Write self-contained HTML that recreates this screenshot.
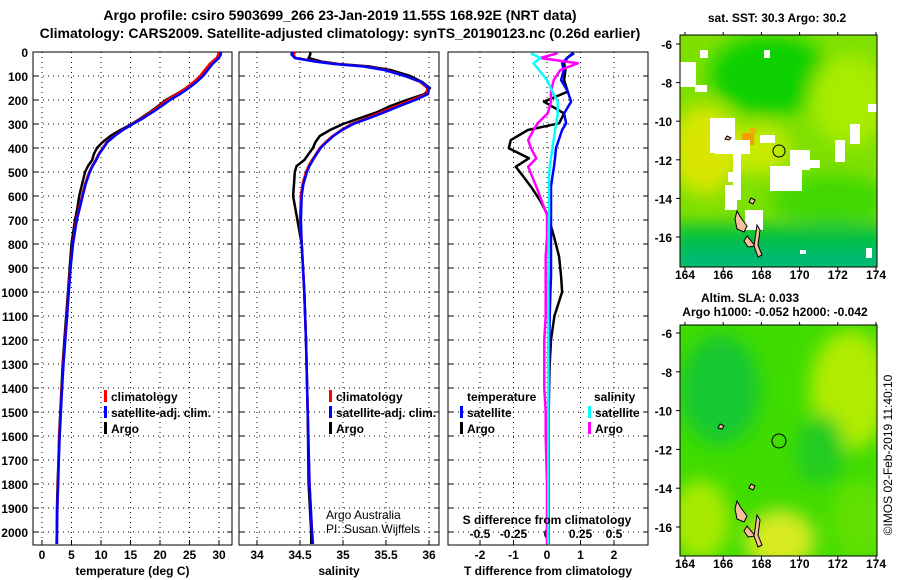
<!DOCTYPE html>
<html><head><meta charset="utf-8"><style>
html,body{margin:0;padding:0;background:#fff;width:900px;height:580px;overflow:hidden}
svg{display:block}
text{font-family:"Liberation Sans",sans-serif;font-weight:bold;fill:#000}
.t{font-size:14px}.k{font-size:12px}.l{font-size:12px}
</style></head><body>
<svg id="c" width="900" height="580" xmlns="http://www.w3.org/2000/svg">
<defs>
<filter id="bl" x="-50%" y="-50%" width="200%" height="200%"><feGaussianBlur stdDeviation="9"/></filter>
<filter id="bl2" x="-50%" y="-50%" width="200%" height="200%"><feGaussianBlur stdDeviation="4"/></filter>
<clipPath id="m1c"><rect x="680" y="35" width="197" height="232"/></clipPath>
<clipPath id="m2c"><rect x="680" y="325" width="197" height="231"/></clipPath>
</defs>
<text class="t" x="340" y="20" text-anchor="middle">Argo profile: csiro 5903699_266 23-Jan-2019 11.55S 168.92E (NRT data)</text>
<text class="t" x="340" y="38" text-anchor="middle">Climatology: CARS2009. Satellite-adjusted climatology: synTS_20190123.nc (0.26d earlier)</text>
<g id="axes"></g>
<g id="maps">
 <g clip-path="url(#m1c)">
  <rect x="680" y="35" width="197" height="232" fill="#7ee000"/>
  <g filter="url(#bl)">
   <ellipse cx="770" cy="75" rx="60" ry="40" fill="#10d000"/>
   <ellipse cx="850" cy="100" rx="40" ry="45" fill="#a8ec00"/>
   <ellipse cx="705" cy="150" rx="35" ry="45" fill="#d8e600"/>
   <ellipse cx="760" cy="150" rx="30" ry="25" fill="#c8ea00"/>
   <ellipse cx="830" cy="200" rx="60" ry="25" fill="#40d800"/>
   <rect x="670" y="225" width="220" height="50" fill="#00c040"/>
   <rect x="670" y="250" width="220" height="30" fill="#00b878"/>
  </g>
  <rect x="742" y="133" width="12" height="12" fill="#f4a000"/>
  <rect x="750" y="128" width="6" height="6" fill="#f0b000"/>
  <g fill="#fff">
   <rect x="680" y="62" width="16" height="25"/><rect x="695" y="85" width="12" height="7"/>
   <rect x="710" y="118" width="25" height="35"/><rect x="715" y="140" width="35" height="14"/>
   <rect x="733" y="150" width="8" height="50"/><rect x="725" y="185" width="12" height="25"/>
   <rect x="745" y="210" width="18" height="20"/>
   <rect x="770" y="166" width="32" height="25"/><rect x="790" y="150" width="20" height="20"/>
   <rect x="760" y="135" width="15" height="8"/><rect x="805" y="160" width="15" height="8"/>
   <rect x="835" y="140" width="10" height="22"/><rect x="850" y="124" width="10" height="20"/>
   <rect x="868" y="104" width="9" height="8"/><rect x="800" y="250" width="6" height="4"/>
   <rect x="700" y="50" width="8" height="8"/><rect x="728" y="172" width="10" height="10"/>
   <rect x="764" y="50" width="6" height="8"/><rect x="866" y="248" width="6" height="10"/>
  </g>
 </g>
 <g clip-path="url(#m2c)">
  <rect x="680" y="325" width="197" height="231" fill="#40dc00"/>
  <g filter="url(#bl)">
   <ellipse cx="720" cy="390" rx="40" ry="55" fill="#18c830"/>
   <ellipse cx="850" cy="390" rx="40" ry="60" fill="#b0ec00"/>
   <ellipse cx="700" cy="520" rx="30" ry="40" fill="#a8ea00"/>
   <ellipse cx="780" cy="540" rx="35" ry="30" fill="#d8ea20"/>
   <ellipse cx="860" cy="520" rx="30" ry="40" fill="#60e000"/>
   <ellipse cx="820" cy="450" rx="25" ry="35" fill="#20cc20"/>
  </g>
 </g>
 <g fill="#f8c09a" stroke="#000" stroke-width="1">
  <polygon points="737,211 741,218 747,226 744,232 737,229 735,219"/>
  <polygon points="747,236 752,242 755,246 748,247 744,241"/>
  <polygon points="757,225 760,230 758,245 762,255 758,257 754,246 756,232"/>
  <polygon points="727,136 731,138 729,140 725,139"/>
  <polygon points="751,198 755,200 753,204 749,202"/>
  <polygon points="737,501 741,508 747,516 744,522 737,519 735,509"/>
  <polygon points="747,526 752,532 755,536 748,537 744,531"/>
  <polygon points="757,515 760,520 758,535 762,545 758,547 754,536 756,522"/>
  <polygon points="720,424 724,426 722,429 718,428"/>
  <polygon points="751,484 755,486 753,490 749,488"/>
 </g>
 <circle cx="779" cy="151" r="6" fill="none" stroke="#000"/>
 <circle cx="779" cy="441" r="7" fill="none" stroke="#000"/>
 <rect x="680" y="35" width="197" height="232" fill="none" stroke="#000"/>
 <rect x="680" y="325" width="197" height="231" fill="none" stroke="#000"/>
 <text class="k" x="777" y="22" text-anchor="middle">sat. SST: 30.3 Argo: 30.2</text>
 <text class="k" x="750" y="302" text-anchor="middle">Altim. SLA: 0.033</text>
 <text class="k" x="775" y="316" text-anchor="middle">Argo h1000: -0.052 h2000: -0.042</text>
 <text x="892" y="455" font-size="12" style="font-weight:normal" text-anchor="middle" transform="rotate(-90 892 455)">©IMOS 02-Feb-2019 11:40:10</text>
</g>
<g id="lines"></g>
<g id="legends">
 <rect x="104" y="390" width="3" height="12" fill="#f00"/><text class="l" x="111" y="401">climatology</text>
 <rect x="104" y="406" width="3" height="12" fill="#00f"/><text class="l" x="111" y="417">satellite-adj. clim.</text>
 <rect x="104" y="422" width="3" height="12" fill="#000"/><text class="l" x="111" y="433">Argo</text>
 <rect x="329" y="390" width="3" height="12" fill="#f00"/><text class="l" x="336" y="401">climatology</text>
 <rect x="329" y="406" width="3" height="12" fill="#00f"/><text class="l" x="336" y="417">satellite-adj. clim.</text>
 <rect x="329" y="422" width="3" height="12" fill="#000"/><text class="l" x="336" y="433">Argo</text>
 <text class="l" x="467" y="401">temperature</text>
 <rect x="460" y="406" width="3" height="12" fill="#00f"/><text class="l" x="467" y="417">satellite</text>
 <rect x="460" y="422" width="3" height="12" fill="#000"/><text class="l" x="467" y="433">Argo</text>
 <text class="l" x="594" y="401">salinity</text>
 <rect x="588" y="406" width="3" height="12" fill="#0ff"/><text class="l" x="595" y="417">satellite</text>
 <rect x="588" y="422" width="3" height="12" fill="#f0f"/><text class="l" x="595" y="433">Argo</text>
 <text x="326" y="519" font-size="12" style="font-weight:normal" fill="#333">Argo Australia</text>
 <text x="326" y="533" font-size="12" style="font-weight:normal" fill="#333">PI: Susan Wijffels</text>
 <text class="l" x="547" y="524" text-anchor="middle">S difference from climatology</text>
</g>
</svg>
<script>
// ---- data ----
const tDepth=[0,10,25,50,75,100,125,150,175,200,225,250,275,300,325,350,375,400,425,450,475,500,550,600,650,700,800,900,1000,1100,1200,1300,1400,1500,1600,1700,1800,1900,2000,2050];
const tArgo=[30.1,30.1,29.8,28.6,27.8,27.0,25.8,24.5,22.8,21.0,19.7,18.3,16.8,15.2,13.3,11.6,10.3,9.3,8.8,8.5,7.8,7.3,6.8,6.3,6.0,5.6,5.0,4.7,4.4,4.1,3.8,3.5,3.3,3.1,2.9,2.8,2.65,2.55,2.5,2.45];
const tClim=[29.9,29.9,29.6,28.4,27.6,26.8,25.7,24.4,22.9,21.2,19.9,18.5,17.0,15.3,13.6,12.2,11.0,10.3,9.6,9.1,8.5,8.0,7.3,6.8,6.3,5.8,5.2,4.8,4.5,4.2,3.9,3.6,3.35,3.15,2.95,2.8,2.7,2.6,2.5,2.5];
const tSat=[30.3,30.3,30.0,28.9,28.1,27.3,26.2,24.9,23.4,21.7,20.3,18.8,17.2,15.4,13.7,12.3,11.1,10.4,9.7,9.2,8.6,8.1,7.4,6.9,6.4,5.9,5.25,4.85,4.55,4.25,3.95,3.65,3.4,3.2,3.0,2.85,2.75,2.6,2.55,2.55];
const sDepth=[0,10,25,40,50,60,75,100,125,150,175,200,225,250,275,300,325,350,375,400,450,475,500,550,600,700,800,1000,1200,1500,1800,2000,2050];
const sArgo=[34.62,34.62,34.6,34.75,34.95,35.3,35.55,35.78,35.92,36.01,35.95,35.74,35.55,35.4,35.2,35.0,34.85,34.73,34.68,34.65,34.55,34.46,34.44,34.43,34.42,34.47,34.52,34.55,34.57,34.59,34.6,34.63,34.63];
const sClim=[34.45,34.42,34.45,34.7,34.92,35.25,35.5,35.72,35.9,35.98,35.97,35.8,35.62,35.45,35.28,35.1,34.98,34.88,34.8,34.73,34.64,34.6,34.57,34.53,34.51,34.5,34.52,34.55,34.57,34.59,34.61,34.64,34.65];
const sSat=[34.42,34.4,34.44,34.68,34.9,35.23,35.48,35.72,35.91,36.0,35.99,35.84,35.66,35.49,35.31,35.12,34.99,34.89,34.81,34.74,34.65,34.61,34.58,34.54,34.52,34.51,34.52,34.55,34.57,34.59,34.61,34.64,34.65];
const dDepth=[5,25,47,75,117,165,207,256,297,325,367,401,443,478,520,561,620,679,769,853,936,1000,1100,1200,1300,1400,1500,1600,1800,2000,2050];
const dTArgo=[0.77,0.6,0.51,0.55,0.51,0.62,-0.09,0.51,0.36,-0.57,-1.08,-1.14,-0.54,-0.93,-0.7,-0.48,-0.2,0.02,0.21,0.36,0.42,0.45,0.22,0.12,0.08,0.06,0.05,0.04,0.04,0.03,0.03];
const dTSat=[0.81,0.6,0.45,0.5,0.42,0.62,0.72,0.51,0.57,0.45,0.35,0.27,0.24,0.21,0.16,0.12,0.12,0.12,0.12,0.12,0.12,0.1,0.08,0.07,0.06,0.06,0.05,0.05,0.05,0.05,0.05];
const dSArgo=[0.08,-0.05,0.23,0.1,0.05,0.03,0.03,0.005,-0.07,-0.1,-0.14,-0.12,-0.08,-0.14,-0.11,-0.08,-0.04,0,0,-0.01,-0.01,-0.01,-0.01,-0.02,-0.02,-0.02,-0.01,-0.01,0,0,0];
const dSSat=[-0.12,-0.05,-0.1,-0.06,0,0.04,0.08,0.08,0.07,0.06,0.05,0.04,0.03,0.02,0.015,0.015,0.015,0.015,0.012,0.012,0.01,0.01,0.01,0.01,0.01,0.01,0.01,0.01,0.01,0.01,0.01];
const depthTicks=[0,100,200,300,400,500,600,700,800,900,1000,1100,1200,1300,1400,1500,1600,1700,1800,1900,2000];
const tTicks=[0,5,10,15,20,25,30];
const sTicks=[34,34.5,35,35.5,36];
const dTTicks=[-2,-1,0,1,2];
const dSTicks=[-0.5,-0.25,0,0.25,0.5];
const latTicks=[-6,-8,-10,-12,-14,-16];
const lonTicks=[164,166,168,170,172,174];
// ---- scales ----
const NS='http://www.w3.org/2000/svg';
const TOP=52,BOT=545;
const yD=d=>TOP+d*0.24;
const xT=v=>42+v*5.9;
const xS=v=>257+(v-34)*86;
const xDT=v=>547+v*33.5;
const xDS=v=>547+v*134;
const lonX=v=>685+(v-164)*19.1;
const lat1Y=v=>44+(-6-v)*19.3;
const lat2Y=v=>333+(-6-v)*19.4;
const axes=document.getElementById('axes'),lines=document.getElementById('lines');
function mk(tag,at,parent){const e=document.createElementNS(NS,tag);for(const k in at)e.setAttribute(k,at[k]);parent.appendChild(e);return e;}
const panels=[{x0:33,x1:232,ticks:tTicks,f:xT,title:'temperature (deg C)',name:'temperature-panel'},
{x0:239,x1:439,ticks:sTicks,f:xS,title:'salinity',name:'salinity-panel'},
{x0:448,x1:648,ticks:dTTicks,f:xDT,title:'T difference from climatology',name:'difference-panel'}];
panels.forEach((p,pi)=>{
  const g=mk('g',{},axes);
  
  
  depthTicks.forEach(d=>{
    if(d>0) mk('line',{x1:p.x0,x2:p.x1,y1:yD(d),y2:yD(d),stroke:'#000','stroke-dasharray':'1 4'},g);
    mk('line',{x1:p.x0,x2:p.x0+5,y1:yD(d),y2:yD(d),stroke:'#000'},g);
    mk('line',{x1:p.x1-5,x2:p.x1,y1:yD(d),y2:yD(d),stroke:'#000'},g);
    if(pi===0){const t=mk('text',{x:28,y:yD(d)+5,'text-anchor':'end',class:'k'},g);t.textContent=d;
      
      }
  });
  p.ticks.forEach(v=>{
    const x=p.f(v);
    if(x>p.x0+3&&x<p.x1-3) mk('line',{x1:x,x2:x,y1:TOP,y2:BOT,stroke:'#000','stroke-dasharray':'1 4'},g);
    mk('line',{x1:x,x2:x,y1:BOT,y2:BOT-5,stroke:'#000'},g);
    const t=mk('text',{x:x,y:559,'text-anchor':'middle',class:'k'},g);t.textContent=v;
    
    
  });
  mk('rect',{x:p.x0,y:TOP,width:p.x1-p.x0,height:BOT-TOP,fill:'none',stroke:'#000'},g);
  const tt=mk('text',{x:(p.x0+p.x1)/2,y:575,'text-anchor':'middle',class:'k'},g);tt.textContent=p.title;
  
  
});
dSTicks.forEach(v=>{const t=mk('text',{x:xDS(v),y:538,'text-anchor':'middle',class:'k'},axes);t.textContent=v===0?'0':String(v).replace('0.','0.');
  
  });
function series(dep,vals,f,color,name){
  const pts=dep.map((d,i)=>f(vals[i]).toFixed(1)+','+yD(d).toFixed(1)).join(' ');
  const e=mk('polyline',{points:pts,fill:'none',stroke:color,'stroke-width':2.5,'stroke-linejoin':'round'},lines);
  
  
}
series(tDepth,tArgo,xT,'#000','temp-argo-line');
series(tDepth,tClim,xT,'#f00','temp-climatology-line');
series(tDepth,tSat,xT,'#00f','temp-satellite-line');
series(sDepth,sArgo,xS,'#000','sal-argo-line');
series(sDepth,sClim,xS,'#f00','sal-climatology-line');
series(sDepth,sSat,xS,'#00f','sal-satellite-line');
series(dDepth,dTArgo,xDT,'#000','tdiff-argo-line');
series(dDepth,dTSat,xDT,'#00f','tdiff-satellite-line');
series(dDepth,dSArgo,xDS,'#f0f','sdiff-argo-line');
series(dDepth,dSSat,xDS,'#0ff','sdiff-satellite-line');
// map axes
const maps=document.getElementById('maps');
[[lat1Y,279,35,267],[lat2Y,568,325,556]].forEach(([fy,ly,t,b])=>{
  latTicks.forEach(v=>{const y=fy(v);
    mk('line',{x1:676,x2:680,y1:y,y2:y,stroke:'#000'},maps);
    const tx=mk('text',{x:672,y:y+5,'text-anchor':'end',class:'k'},maps);tx.textContent=v;
    
    });
  lonTicks.forEach(v=>{const x=lonX(v);
    mk('line',{x1:x,x2:x,y1:b,y2:b+4,stroke:'#000'},maps);
    mk('line',{x1:x,x2:x,y1:t,y2:t-3,stroke:'#000'},maps);
    const tx=mk('text',{x:x,y:ly,'text-anchor':'middle',class:'k'},maps);tx.textContent=v;
    
    });
});
</script>
</body></html>
